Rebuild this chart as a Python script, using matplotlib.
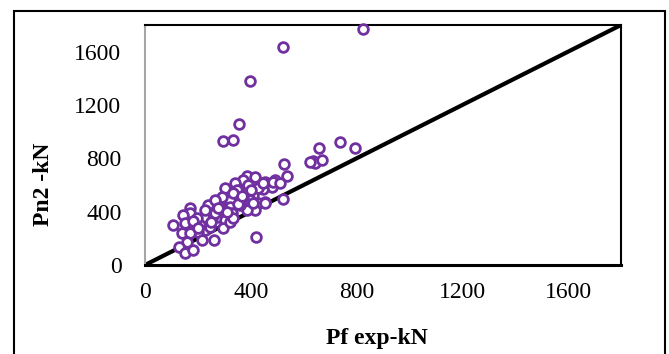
import matplotlib
matplotlib.use("Agg")
import matplotlib.pyplot as plt
from matplotlib.patches import Rectangle

# experimental failure load vs. predicted Pn2 (kN)
pf_exp = [826, 523, 397, 355, 296, 334, 737, 796, 658, 637, 643, 668, 624,
          526, 536, 521, 492, 479, 420, 454, 447, 422, 387, 416, 371, 340,
          359, 303, 340, 384, 410, 429, 454, 416, 384, 359, 321, 284, 290,
          321, 328, 284, 281, 303, 239, 233, 254, 222, 296, 261, 321, 214,
          227, 202, 189, 170, 170, 145, 151, 107, 141, 170, 158, 127, 151,
          183, 214, 208, 189, 246, 265, 227, 195, 296, 334, 284, 347, 397,
          391, 429, 410, 372, 334, 265, 485, 447, 454, 510, 180, 200, 250,
          275, 310, 350, 365, 400]
pn2 = [1770, 1638, 1380, 1058, 928, 938, 925, 880, 875, 782, 763, 788, 775,
       755, 668, 497, 638, 583, 213, 625, 568, 625, 668, 658, 638, 613,
       563, 575, 500, 550, 525, 463, 475, 413, 413, 450, 488, 475, 513,
       438, 388, 388, 363, 338, 450, 400, 350, 363, 275, 188, 325, 275,
       263, 250, 275, 425, 388, 375, 313, 300, 238, 238, 175, 138, 88,
       113, 188, 300, 313, 288, 388, 413, 350, 413, 350, 438, 563, 488,
       600, 575, 463, 513, 538, 488, 625, 613, 468, 613, 330, 280, 320,
       430, 400, 460, 520, 560]
limit = 1800
ticks = [0, 400, 800, 1200, 1600]

plt.rcParams["font.family"] = ["Liberation Serif", "DejaVu Serif"]

fig = plt.figure(figsize=(6.69, 3.54), dpi=100)
ax = fig.add_axes([145 / 669, 1 - 265 / 354, 476 / 669, 240 / 354])

# outer chart border
fig.patches.append(Rectangle((14 / 669, -0.2), (665 - 14) / 669, 1.2 - 11 / 354,
                             transform=fig.transFigure, fill=False,
                             edgecolor="black", linewidth=1.5, clip_on=False))

ax.plot([0, limit], [0, limit], color="black", linewidth=3, zorder=2,
        solid_capstyle="butt")
ax.plot(pf_exp, pn2, linestyle="none", marker="o", markersize=7,
        markerfacecolor="white", markeredgecolor="#7030a0",
        markeredgewidth=2, zorder=3, clip_on=False)

ax.set_xlim(0, limit)
ax.set_ylim(0, limit)
ax.set_xticks(ticks)
ax.set_yticks(ticks)
ax.tick_params(length=0, labelsize=17)
ax.tick_params(axis="y", pad=17)
ax.tick_params(axis="x", pad=12)

for side in ["top", "right"]:
    ax.spines[side].set_linewidth(1.5)
ax.spines["left"].set_color("#a6a6a6")
ax.spines["left"].set_linewidth(1.5)
ax.spines["bottom"].set_linewidth(2.2)

ax.set_xlabel("Pf exp-kN", fontsize=17, fontweight="bold")
ax.set_ylabel("Pn2 -kN", fontsize=17, fontweight="bold")
ax.xaxis.set_label_coords(0.487, -0.308)
ax.yaxis.set_label_coords(-0.214, 0.3375)
ax.xaxis.label.set_va("center")
ax.yaxis.label.set_va("center")

fig.savefig("out.png", dpi=100)
